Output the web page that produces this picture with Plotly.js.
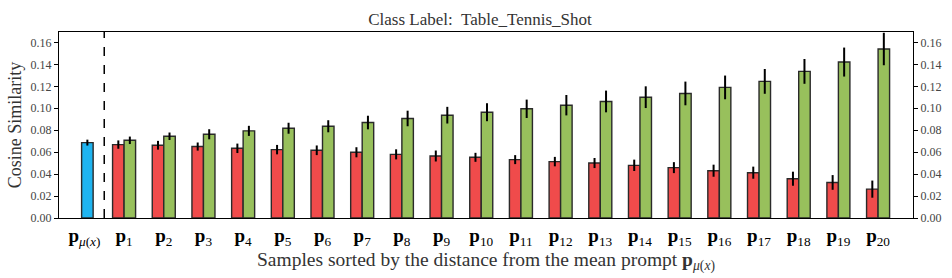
<!DOCTYPE html>
<html>
<head>
<meta charset="utf-8">
<script src="https://cdn.plot.ly/plotly-3.0.1.min.js"></script>
<style>html,body{margin:0;padding:0;background:#fff}</style>
</head>
<body>
<div id="chart" style="width:952px;height:278px"></div>
<script>
// Data
const tickLabels = ["<b>p</b><sub><i>μ</i>(<i>x</i>)</sub>",
  "<b>p</b><sub>1</sub>","<b>p</b><sub>2</sub>","<b>p</b><sub>3</sub>","<b>p</b><sub>4</sub>","<b>p</b><sub>5</sub>",
  "<b>p</b><sub>6</sub>","<b>p</b><sub>7</sub>","<b>p</b><sub>8</sub>","<b>p</b><sub>9</sub>","<b>p</b><sub>10</sub>",
  "<b>p</b><sub>11</sub>","<b>p</b><sub>12</sub>","<b>p</b><sub>13</sub>","<b>p</b><sub>14</sub>","<b>p</b><sub>15</sub>",
  "<b>p</b><sub>16</sub>","<b>p</b><sub>17</sub>","<b>p</b><sub>18</sub>","<b>p</b><sub>19</sub>","<b>p</b><sub>20</sub>"];
const meanX = [0];
const meanValue = [0.0687];
const meanErr = [0.0027];
const sampleX = [1,2,3,4,5,6,7,8,9,10,11,12,13,14,15,16,17,18,19,20];
const redValues = [0.0669,0.0663,0.0651,0.0635,0.0623,0.0617,0.0599,0.0580,0.0565,0.0553,0.0532,0.0514,0.0501,0.0480,0.0459,0.0431,0.0413,0.0358,0.0324,0.0263];
const redErr = [0.0038,0.0040,0.0037,0.0043,0.0043,0.0044,0.0046,0.0046,0.0050,0.0041,0.0041,0.0043,0.0046,0.0052,0.0050,0.0055,0.0055,0.0064,0.0067,0.0078];
const greenValues = [0.0708,0.0745,0.0763,0.0794,0.0818,0.0836,0.0870,0.0907,0.0937,0.0964,0.0995,0.1028,0.1062,0.1101,0.1135,0.1190,0.1245,0.1336,0.1421,0.1540];
const greenErr = [0.0034,0.0034,0.0046,0.0046,0.0050,0.0055,0.0062,0.0071,0.0076,0.0082,0.0084,0.0093,0.0099,0.0099,0.0108,0.0108,0.0113,0.0113,0.0132,0.0148];
const yTicks = [0,0.02,0.04,0.06,0.08,0.10,0.12,0.14,0.16];

const edge = {color:'#2a2a2a', width:1.4};
const eb = (arr)=>({type:'data', array:arr, visible:true, color:'#000', thickness:2, width:0});
const W = 0.29;

const traces = [
  {type:'bar', x:meanX, y:meanValue, width:W, offset:-0.07, marker:{color:'#1EB4F0', line:edge}, error_y:eb(meanErr), showlegend:false},
  {type:'bar', x:sampleX, y:redValues, width:W, offset:-W, marker:{color:'#F04B4B', line:edge}, error_y:eb(redErr), showlegend:false},
  {type:'bar', x:sampleX, y:greenValues, width:W, offset:0, yaxis:'y2', marker:{color:'#98C05C', line:edge}, error_y:eb(greenErr), showlegend:false}
];

const font = 'Liberation Serif';
const yRange = [0, 0.1695];
const layout = {
  width:952, height:278,
  margin:{l:59, r:39.3, t:32, b:60},
  paper_bgcolor:'#fff', plot_bgcolor:'#fff',
  barmode:'overlay',
  font:{family:font, color:'#222'},
  title:{text:'Class Label:  Table_Tennis_Shot', x:0.493, xanchor:'center', xref:'paper', y:0.93, yanchor:'middle', yref:'container', font:{family:font, size:17, color:'#333'}},
  xaxis:{range:[-0.64,20.88], tickmode:'array', tickvals:[0].concat(sampleX), ticktext:tickLabels,
    ticks:'', showline:true, linecolor:'#000', linewidth:1, mirror:true, showgrid:false, zeroline:false,
    tickfont:{family:font, size:19, color:'#000'},
    title:{text:'Samples sorted by the distance from the mean prompt <b>p</b><sub><i>μ</i>(<i>x</i>)</sub>', font:{family:font, size:19.5, color:'#333'}, standoff:0}},
  yaxis:{range:yRange, tickmode:'array', tickvals:yTicks, tickformat:'.2f',
    ticks:'outside', ticklen:4, tickcolor:'#000', showline:true, linecolor:'#000', linewidth:1, mirror:true,
    showgrid:false, zeroline:false, tickfont:{family:font, size:12, color:'#444'},
    title:{text:'Cosine Similarity', font:{family:font, size:18, color:'#333'}, standoff:4}},
  yaxis2:{range:yRange, overlaying:'y', side:'right', tickmode:'array', tickvals:yTicks, tickformat:'.2f',
    ticks:'outside', ticklen:4, tickcolor:'#000', showline:true, linecolor:'#000', linewidth:1,
    showgrid:false, zeroline:false, tickfont:{family:font, size:12, color:'#444'}},
  shapes:[{type:'line', xref:'x', yref:'paper', x0:0.5, x1:0.5, y0:0, y1:1, line:{color:'#000', width:1.5, dash:'dash'}}]
};

Plotly.newPlot('chart', traces, layout, {displayModeBar:false, staticPlot:true});
</script>
</body>
</html>
